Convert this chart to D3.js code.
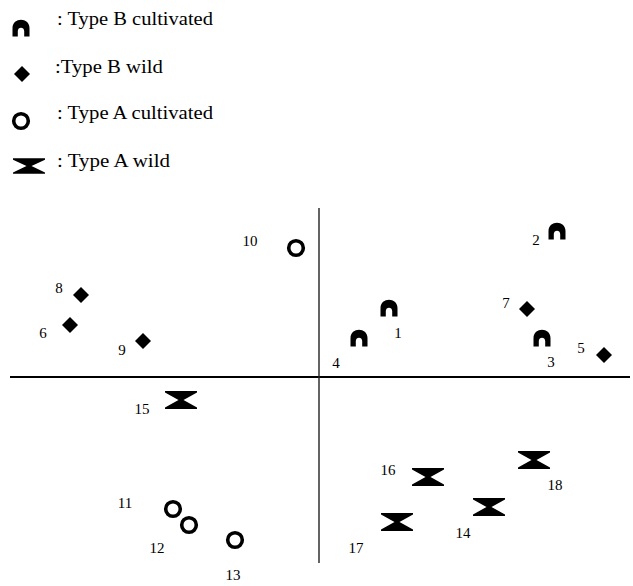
<!DOCTYPE html>
<html>
<head>
<meta charset="utf-8">
<script src="https://cdn.jsdelivr.net/npm/d3@7/dist/d3.min.js"></script>
<style>
  html, body { margin: 0; padding: 0; background: #fff; }
  svg { display: block; }
  text { font-family: "Liberation Serif", "Times New Roman", serif; fill: #000; }
</style>
</head>
<body>
<svg id="chart" width="633" height="586"></svg>
<script>
// ---- data ----
const groups = ["Type B cultivated", "Type B wild", "Type A cultivated", "Type A wild"];
const legendLabels = [": Type B cultivated", ":Type B wild", ": Type A cultivated", ": Type A wild"];
const ids    = [1, 2, 3, 4, 5, 6, 7, 8, 9, 10, 11, 12, 13, 14, 15, 16, 17, 18];
const groupOf = [0, 0, 0, 0, 1, 1, 1, 1, 1, 2, 2, 2, 2, 3, 3, 3, 3, 3];
const xValues = [0.70, 2.38, 2.23, 0.40, 2.85, -2.49, 2.08, -2.38, -1.76, -0.23, -1.46, -1.30, -0.84, 1.70, -1.38, 1.09, 0.78, 2.15];
const yValues = [0.69, 1.46, 0.39, 0.39, 0.22, 0.52, 0.68, 0.82, 0.36, 1.29, -1.32, -1.48, -1.63, -1.30, -0.23, -1.00, -1.45, -0.83];

// label placement (pixel offsets from the marker, layout only)
const labelOffsets = [[9,30],[-21,14],[9,29],[-23,30],[-23,-2],[-27,13],[-21,-1],[-22,-2],[-21,14],
  [-46,-2],[-48,-1],[-32,28],[-2,40],[-26,31],[-39,14],[-40,-2],[-41,31],[21,30]];

// ---- layout ----
const svg = d3.select("#chart");
const x = d3.scaleLinear().domain([-3.09, 3.11]).range([10, 630]);
const y = d3.scaleLinear().domain([-1.86, 1.69]).range([563, 208]);

// axes through the origin
svg.append("line").attr("x1", x(-3.09)).attr("x2", x(3.11)).attr("y1", y(0)).attr("y2", y(0))
  .attr("stroke", "#000").attr("stroke-width", 2);
svg.append("line").attr("x1", x(0)).attr("x2", x(0)).attr("y1", y(1.69)).attr("y2", y(-1.86))
  .attr("stroke", "#222").attr("stroke-width", 1.4);

// marker shapes
const archPath = "M-8.5,8.5 L-8.5,0 C-8.5,-11 8.5,-11 8.5,0 L8.5,8.5 L3.2,8.5 L3.2,3 C3.2,-1.5 -3.2,-1.5 -3.2,3 L-3.2,8.5 Z";
const diamondPath = "M0,-8 L8,0 L0,8 L-8,0 Z";
const bowtiePath = "M-16,-9 L16,-9 L16,-7.5 L2.5,0 L16,7.5 L16,9 L-16,9 L-16,7.5 L-2.5,0 L-16,-7.5 Z";

function drawMarker(g, grp) {
  if (grp === 0) g.append("path").attr("d", archPath).attr("fill", "#000");
  else if (grp === 1) g.append("path").attr("d", diamondPath).attr("fill", "#000");
  else if (grp === 2) g.append("circle").attr("r", 7.3).attr("fill", "none").attr("stroke", "#000").attr("stroke-width", 3.6);
  else g.append("path").attr("d", bowtiePath).attr("fill", "#000");
}

const pts = ids.map((id, i) => ({ id, grp: groupOf[i], xv: xValues[i], yv: yValues[i], off: labelOffsets[i] }));

const pg = svg.selectAll("g.pt").data(pts).enter().append("g")
  .attr("class", "pt")
  .attr("transform", d => `translate(${x(d.xv)},${y(d.yv)})`);
pg.each(function(d) { drawMarker(d3.select(this), d.grp); });
pg.append("text")
  .attr("x", d => d.off[0]).attr("y", d => d.off[1])
  .attr("text-anchor", "middle")
  .attr("font-size", 15)
  .text(d => d.id);

// legend
const legendMarkerX = [21, 22, 21, 29];
const legendRowY = [28, 74, 121, 166];
const legendTextX = [57, 55, 57, 57];
const legendTextY = [25, 73, 119, 167];
const legendTextW = [156, 108, 156, 113];
const lg = svg.append("g");
groups.forEach((gname, i) => {
  const g = lg.append("g").attr("transform", `translate(${legendMarkerX[i]},${legendRowY[i]})`);
  drawMarker(g, i);
  if (i === 3) g.attr("transform", `translate(${legendMarkerX[i]},${legendRowY[i]}) scale(1,0.85)`);
  lg.append("text")
    .attr("x", legendTextX[i])
    .attr("y", legendTextY[i])
    .attr("font-size", 19)
    .attr("textLength", legendTextW[i])
    .attr("lengthAdjust", "spacingAndGlyphs")
    .text(legendLabels[i]);
});
</script>
</body>
</html>
